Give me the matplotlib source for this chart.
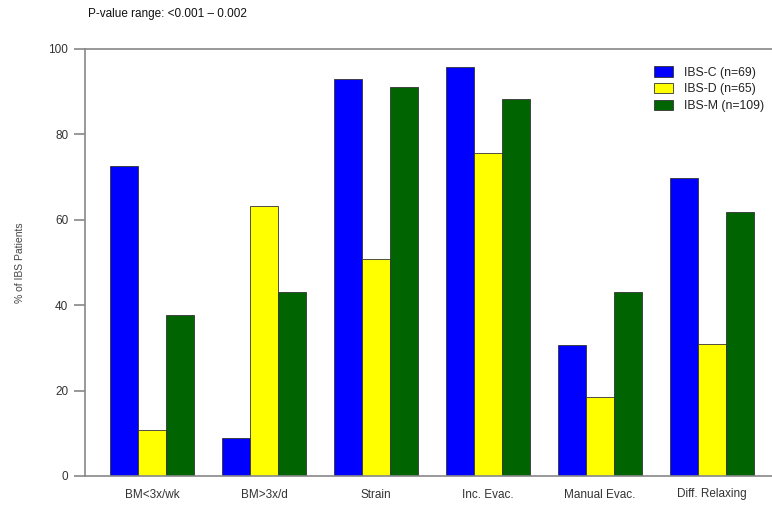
import matplotlib
matplotlib.use("Agg")
import matplotlib.pyplot as plt
import numpy as np

plt.rcParams['font.family'] = ['Liberation Sans', 'DejaVu Sans']

# data
categories = ["BM<3x/wk", "BM>3x/d", "Strain", "Inc. Evac.", "Manual Evac.", "Diff. Relaxing"]
ibs_c = [72.6, 8.9, 93.0, 95.8, 30.7, 69.8]
ibs_d = [10.8, 63.2, 50.8, 75.6, 18.5, 30.9]
ibs_m = [37.7, 43.1, 91.0, 88.3, 43.1, 61.8]
series_names = ["IBS-C (n=69)", "IBS-D (n=65)", "IBS-M (n=109)"]
colors = ["#0000FF", "#FFFF00", "#006400"]

fig = plt.figure(figsize=(7.72, 5.25), dpi=100)
ax = fig.add_axes([85 / 772, 49 / 525, 687 / 772, 427 / 525])

x = np.arange(len(categories))
w = 0.25
for i, (vals, name, c) in enumerate(zip([ibs_c, ibs_d, ibs_m], series_names, colors)):
    ax.bar(x + (i - 1) * w, vals, width=w, color=c, edgecolor="#333333",
           linewidth=0.6, label=name)

ax.set_xlim(-0.598, -0.598 + 687 / 112)
ax.set_ylim(0, 100)
ax.set_yticks([0, 20, 40, 60, 80, 100])
ax.set_xticks(x)
ax.set_xticklabels(categories)

for s in ["left", "top", "bottom"]:
    ax.spines[s].set_color("#888888")
    ax.spines[s].set_linewidth(1.2)
ax.spines["right"].set_visible(False)

ax.tick_params(axis="y", length=8, width=1.2, color="#888888", labelsize=8.5,
               labelcolor="#333333", pad=4)
ax.tick_params(axis="x", length=0, labelsize=8.5, labelcolor="#333333", pad=9)

ax.set_ylabel("% of IBS Patients", fontsize=7.5, color="#444444", labelpad=17)

fig.text(88 / 772, 1 - 14 / 525, "P-value range: <0.001 \u2013 0.002",
         fontsize=8.5, color="#111111", va="center", ha="left")

leg = ax.legend(loc="upper right", bbox_to_anchor=(1.005, 0.985), frameon=False,
                fontsize=8.8, handlelength=1.6, handleheight=0.9,
                labelspacing=0.35, handletextpad=0.9)
for t in leg.get_texts():
    t.set_color("#222222")

fig.savefig("out.png", dpi=100)
